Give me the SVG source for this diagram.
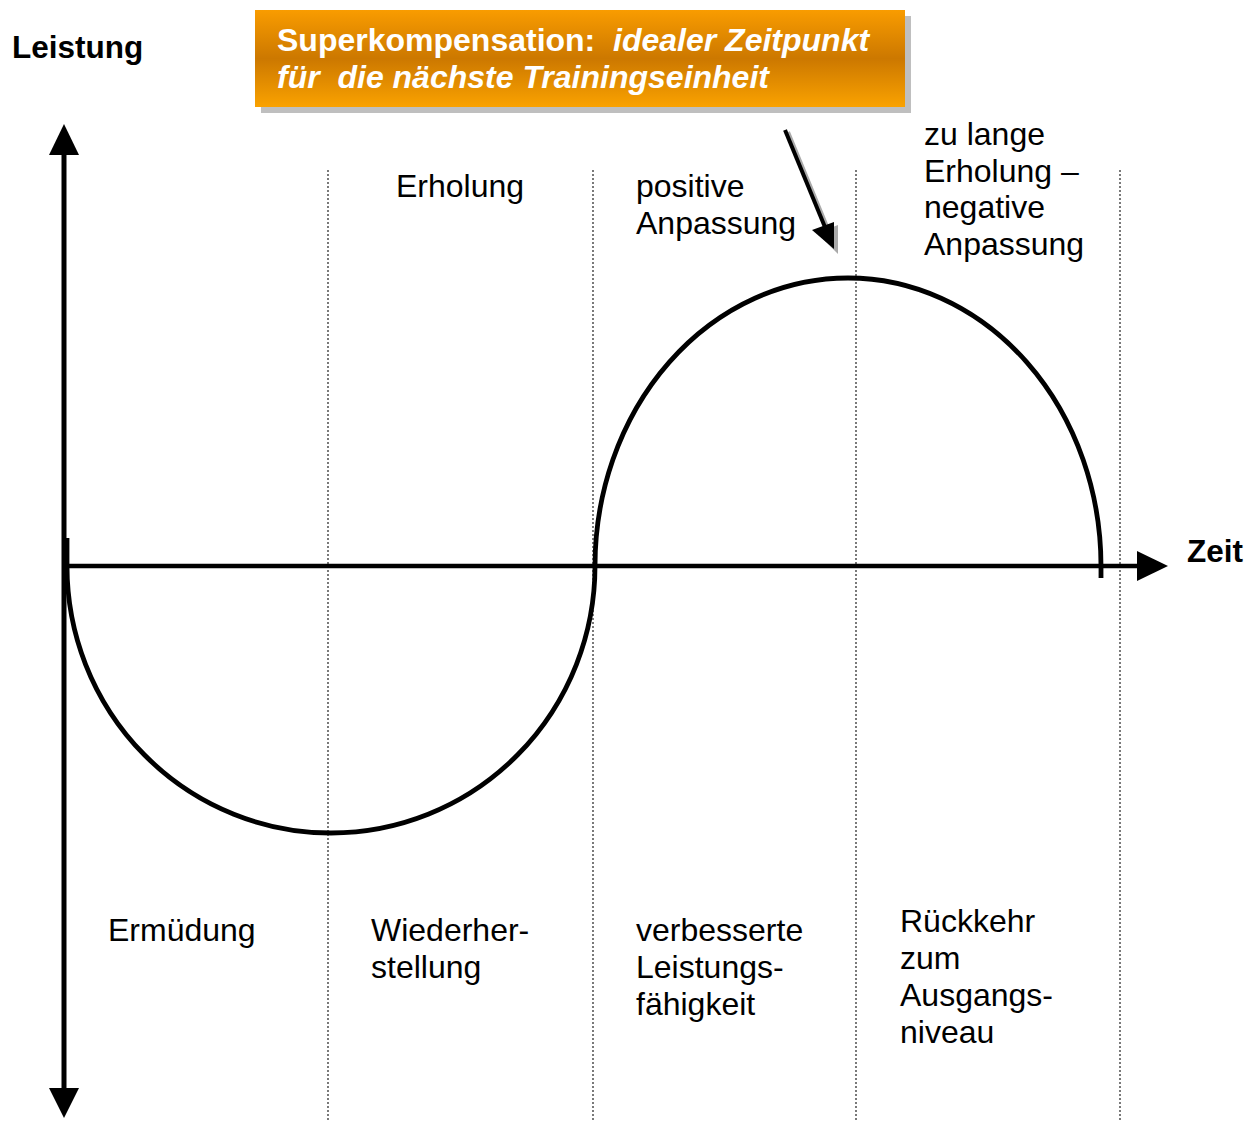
<svg xmlns="http://www.w3.org/2000/svg" width="1260" height="1121" viewBox="0 0 1260 1121">
<style>
.t{font-family:"Liberation Sans",Arial,sans-serif;font-size:32px;fill:#000}
.b{font-weight:bold;font-size:31.5px}
.w{font-family:"Liberation Sans",Arial,sans-serif;font-size:32px;font-weight:bold;fill:#fff;white-space:pre}
.dot{stroke:#333;stroke-width:1.3;stroke-dasharray:2 2;fill:none}
.ax{stroke:#000;stroke-width:5;fill:none}
</style>
<defs>
<linearGradient id="og" x1="0" y1="0" x2="0" y2="1">
<stop offset="0" stop-color="#F99C00"/>
<stop offset="0.5" stop-color="#CC7800"/>
<stop offset="1" stop-color="#FAA200"/>
</linearGradient>
</defs>
<rect width="1260" height="1121" fill="#fff"/>
<g id="gridlines">
<line class="dot" x1="328" y1="170" x2="328" y2="1121"/>
<line class="dot" x1="593" y1="170" x2="593" y2="1121"/>
<line class="dot" x1="856" y1="170" x2="856" y2="1121"/>
<line class="dot" x1="1120" y1="170" x2="1120" y2="1121"/>
</g>
<g id="axes">
<line class="ax" x1="64" y1="150" x2="64" y2="1092"/>
<polygon points="64,124 49,155 79,155" fill="#000"/>
<polygon points="64,1118 49,1088 79,1088" fill="#000"/>
<line x1="64" y1="566" x2="1140" y2="566" stroke="#000" stroke-width="4.5"/>
<polygon points="1168,566 1137,551 1137,581" fill="#000"/>
</g>
<g id="curve">
<path d="M 67 538 L 67 566 A 264 267 0 0 0 595 566 A 253 288 0 0 1 1101 566 L 1101 578" fill="none" stroke="#000" stroke-width="4.8"/>
</g>
<g id="callout">
<rect x="261" y="16" width="650" height="97" fill="#BFBFBF"/>
<rect x="255" y="10" width="650" height="97" fill="url(#og)"/>
<text class="w" x="277" y="51" xml:space="preserve">Superkompensation:  <tspan font-style="italic">idealer Zeitpunkt</tspan></text>
<text class="w" x="277" y="88" font-style="italic" xml:space="preserve">für  die nächste Trainingseinheit</text>
</g>
<g id="connectors">
<line x1="788" y1="132" x2="830" y2="234" stroke="#AAAAAA" stroke-width="4"/>
<polygon points="817,233 838,225 838,254" fill="#AAAAAA"/>
<line x1="785" y1="130" x2="827" y2="232" stroke="#000" stroke-width="4"/>
<polygon points="812,230 834,222 834,249" fill="#000"/>
</g>
<g id="labels">
<text class="t b" x="12" y="58">Leistung</text>
<text class="t b" x="1187" y="562">Zeit</text>
<text class="t" x="396" y="197">Erholung</text>
<text class="t" x="636" y="197">positive</text>
<text class="t" x="636" y="234">Anpassung</text>
<text class="t" x="924" y="145">zu lange</text>
<text class="t" x="924" y="182">Erholung –</text>
<text class="t" x="924" y="218">negative</text>
<text class="t" x="924" y="255">Anpassung</text>
<text class="t" x="108" y="941">Ermüdung</text>
<text class="t" x="371" y="941">Wiederher-</text>
<text class="t" x="371" y="978">stellung</text>
<text class="t" x="636" y="941">verbesserte</text>
<text class="t" x="636" y="978">Leistungs-</text>
<text class="t" x="636" y="1015">fähigkeit</text>
<text class="t" x="900" y="932">Rückkehr</text>
<text class="t" x="900" y="969">zum</text>
<text class="t" x="900" y="1006">Ausgangs-</text>
<text class="t" x="900" y="1043">niveau</text>
</g>
</svg>
